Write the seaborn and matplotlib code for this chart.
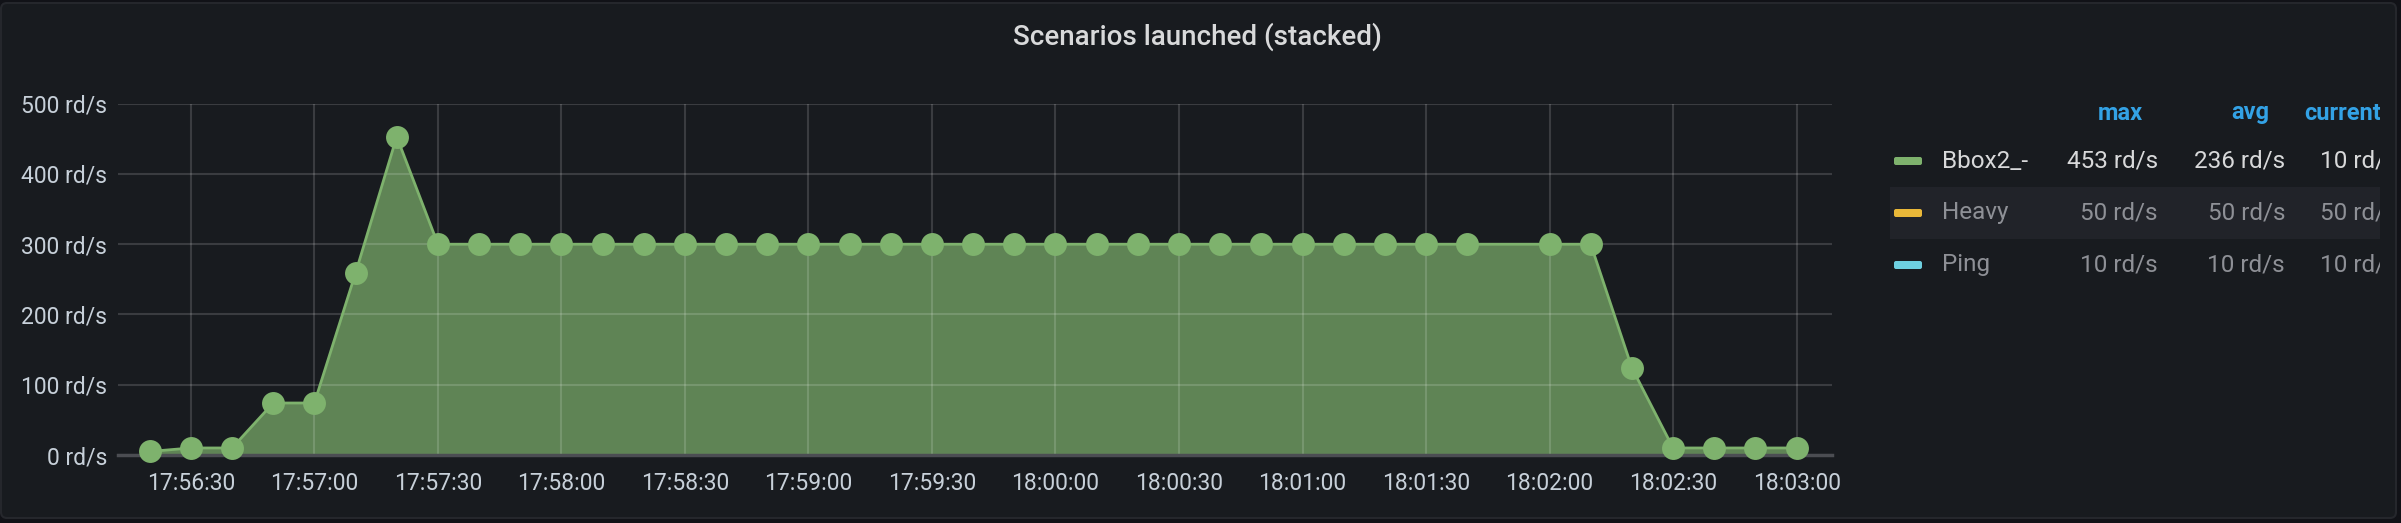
import matplotlib
matplotlib.use("Agg")
import matplotlib.pyplot as plt
import matplotlib.dates as mdates
from matplotlib.patches import FancyBboxPatch, Rectangle
from matplotlib.transforms import IdentityTransform
import pandas as pd
import seaborn as sns

# chart data
title = "Scenarios launched (stacked)"
times = ["17:56:20", "17:56:30", "17:56:40", "17:56:50",
         "17:57:00", "17:57:10", "17:57:20", "17:57:30", "17:57:40", "17:57:50",
         "17:58:00", "17:58:10", "17:58:20", "17:58:30", "17:58:40", "17:58:50",
         "17:59:00", "17:59:10", "17:59:20", "17:59:30", "17:59:40", "17:59:50",
         "18:00:00", "18:00:10", "18:00:20", "18:00:30", "18:00:40", "18:00:50",
         "18:01:00", "18:01:10", "18:01:20", "18:01:30", "18:01:40",
         "18:02:00", "18:02:10", "18:02:20", "18:02:30", "18:02:40", "18:02:50",
         "18:03:00"]
bbox2 = [5, 10, 10, 74,
         74, 259, 453, 300, 300, 300,
         300, 300, 300, 300, 300, 300,
         300, 300, 300, 300, 300, 300,
         300, 300, 300, 300, 300, 300,
         300, 300, 300, 300, 300,
         300, 300, 124, 10, 10, 10,
         10]
series_names = ["Bbox2_-", "Heavy", "Ping"]
series_colors = ["#7eb26d", "#eab839", "#6ed0e0"]
stat_headers = ["max", "avg", "current"]
stat_values = [["453 rd/s", "236 rd/s", "10 rd/s"],
               ["50 rd/s", "50 rd/s", "50 rd/s"],
               ["10 rd/s", "10 rd/s", "10 rd/s"]]
y_ticks = [0, 100, 200, 300, 400, 500]

df = pd.DataFrame({"time": pd.to_datetime(["2021-01-01 " + t for t in times]),
                   "value": bbox2})

W, H = 2401, 523
BG = "#181b1f"
TXT = "#c7d0d9"

sns.set_theme(style="dark")
plt.rcParams["font.family"] = ["Roboto", "DejaVu Sans"]

fig = plt.figure(figsize=(W / 100, H / 100), dpi=100, facecolor="#111217")

def fx(x):
    return x / W

def fy(y):
    return 1 - y / H

# panel
fig.add_artist(FancyBboxPatch((1, H - 518), 2395, 515,
                              boxstyle="round,pad=0,rounding_size=6",
                              facecolor=BG, edgecolor="#25272c", lw=1.5,
                              transform=IdentityTransform(), zorder=-5))

ax = fig.add_axes([fx(118), fy(455), fx(1832 - 118), (455 - 103.7) / H])
ax.set_facecolor("none")

ax.fill_between(df["time"], df["value"], color=series_colors[0], alpha=0.7, lw=0, zorder=1)
sns.lineplot(data=df, x="time", y="value", ax=ax, color=series_colors[0],
             lw=2, marker="o", markersize=16.5, markeredgewidth=0, zorder=3)
ax.lines[-1].set_clip_on(False)

ax.set_xlim(pd.Timestamp("2021-01-01 17:56:12.3"), pd.Timestamp("2021-01-01 18:03:08.6"))
ax.set_ylim(0, 500)
ax.set_yticks(y_ticks)
ax.set_yticklabels([f"{v} rd/s" for v in y_ticks])
ax.xaxis.set_major_locator(mdates.SecondLocator(bysecond=[0, 30]))
ax.xaxis.set_major_formatter(mdates.DateFormatter("%H:%M:%S"))
ax.set_xlabel("")
ax.set_ylabel("")

ax.set_axisbelow("line")
ax.grid(True, color="white", alpha=0.15, lw=1.5)
ax.tick_params(axis="both", length=0, labelsize=16.5, labelcolor=TXT)
ax.tick_params(axis="y", pad=8)
ax.tick_params(axis="x", pad=12)
for s in ["top", "right", "left"]:
    ax.spines[s].set_visible(False)
ax.spines["bottom"].set_color("#4b4d52")
ax.spines["bottom"].set_linewidth(2.5)

fig.text(fx(1197), fy(37), title, ha="center", va="center", fontsize=20,
         fontweight="medium", color="#d8d9da")

# legend table
lax = fig.add_axes([fx(1885), fy(300), fx(2380 - 1885), (300 - 90) / H])
lax.set_xlim(1885, 2380)
lax.set_ylim(300, 90)
lax.axis("off")

lax.add_patch(Rectangle((1890, 187), 490, 52, color="#212329", lw=0, zorder=0))

header_x = [2120, 2250, 2304]
header_ha = ["center", "center", "left"]
for hx, ha, h in zip(header_x, header_ha, stat_headers):
    lax.text(hx, 113, h, ha=ha, va="center", fontsize=17, fontweight="bold",
             color="#33a2e5", clip_on=True)

row_y = [161, 213, 265]
value_x = [2158, 2285, 2320]
value_ha = ["right", "right", "left"]
for i, (name, col) in enumerate(zip(series_names, series_colors)):
    y = row_y[i]
    tc = "#d8d9da" if i == 0 else "#8e9096"
    lax.add_patch(FancyBboxPatch((1894, y - 4), 28, 8,
                                 boxstyle="round,pad=0,rounding_size=2",
                                 color=col, lw=0, zorder=2))
    lax.text(1942, y, name, ha="left", va="center", fontsize=17.5, color=tc, clip_on=True)
    for vx, ha, val in zip(value_x, value_ha, stat_values[i]):
        lax.text(vx, y, val, ha=ha, va="center", fontsize=17.5, color=tc, clip_on=True)

fig.savefig("out.png", dpi=100, facecolor=fig.get_facecolor())
